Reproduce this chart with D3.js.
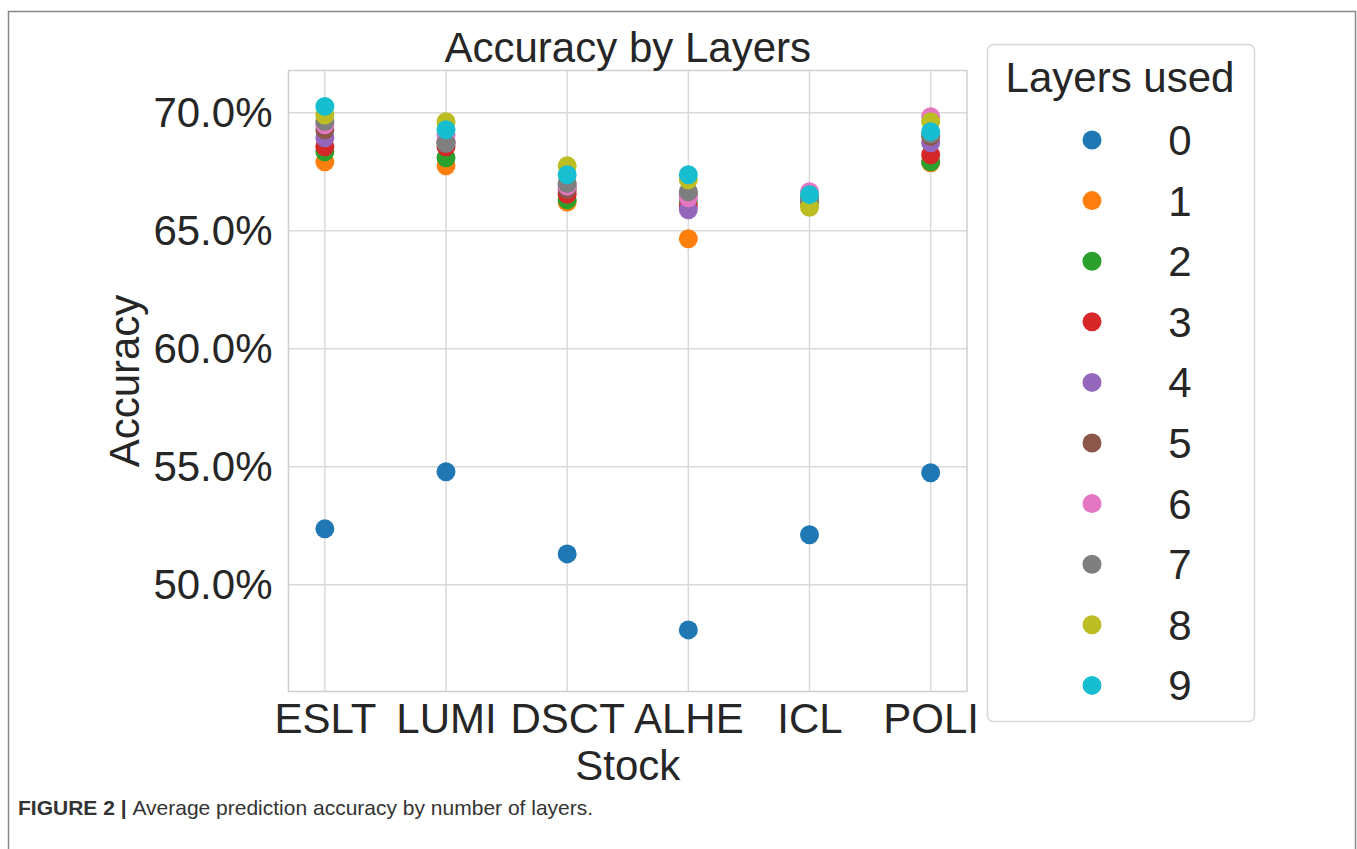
<!DOCTYPE html>
<html>
<head>
<meta charset="utf-8">
<script src="https://cdn.jsdelivr.net/npm/d3@7"></script>
<style>
  body { margin: 0; background: #fff; }
  svg { font-family: "Liberation Sans", Arial, sans-serif; }
</style>
</head>
<body>
<svg id="chart" width="1357" height="849"></svg>
<script>
const stocks = ["ESLT", "LUMI", "DSCT", "ALHE", "ICL", "POLI"];
const layers = ["0", "1", "2", "3", "4", "5", "6", "7", "8", "9"];
const yTicks = [50, 55, 60, 65, 70];

// accuracy (%) per layer count, one value per stock
const layer0 = [52.37, 54.79, 51.31, 48.09, 52.12, 54.75];
const layer1 = [67.92, 67.75, 66.22, 64.66, 66.20, 67.88];
const layer2 = [68.35, 68.09, 66.31, 66.23, 66.30, 67.92];
const layer3 = [68.56, 68.56, 66.55, 66.05, 66.30, 68.22];
const layer4 = [68.94, 68.80, 66.90, 65.89, 66.30, 68.73];
const layer5 = [69.28, 68.73, 66.75, 66.55, 66.35, 69.00];
const layer6 = [69.49, 69.07, 66.90, 66.40, 66.65, 69.83];
const layer7 = [69.63, 68.70, 67.00, 66.65, 66.30, 69.10];
const layer8 = [69.90, 69.62, 67.75, 67.16, 66.00, 69.62];
const layer9 = [70.27, 69.28, 67.37, 67.37, 66.53, 69.20];
const values = [layer0, layer1, layer2, layer3, layer4, layer5, layer6, layer7, layer8, layer9];

const colors = ["#1f77b4", "#ff7f0e", "#2ca02c", "#d62728", "#9467bd",
                "#8c564b", "#e377c2", "#7f7f7f", "#bcbd22", "#17becf"];

const svg = d3.select("#chart");
const plot = {left: 288.5, right: 967, top: 70.5, bottom: 691.5};

// outer frame of the figure
svg.append("path")
    .attr("d", "M8.5,849 V11.5 H1355.5 V849")
    .attr("fill", "none").attr("stroke", "#888").attr("stroke-width", 1.5);

let x = d3.scalePoint()
    .domain(stocks)
    .range([plot.left, plot.right])
    .padding(0.3);
let y = d3.scaleLinear()
    .domain([45.48, 71.79])
    .range([plot.bottom, plot.top]);

// grid
svg.append("g").selectAll("line.v")
    .data(stocks).enter().append("line")
    .attr("x1", d => x(d)).attr("x2", d => x(d))
    .attr("y1", plot.top).attr("y2", plot.bottom)
    .attr("stroke", "#d9d9d9").attr("stroke-width", 1.5);
svg.append("g").selectAll("line.h")
    .data(yTicks).enter().append("line")
    .attr("x1", plot.left).attr("x2", plot.right)
    .attr("y1", d => y(d)).attr("y2", d => y(d))
    .attr("stroke", "#d9d9d9").attr("stroke-width", 1.5);

svg.append("rect")
    .attr("x", plot.left).attr("y", plot.top)
    .attr("width", plot.right - plot.left).attr("height", plot.bottom - plot.top)
    .attr("fill", "none").attr("stroke", "#cfcfcf").attr("stroke-width", 1.5);

// axes (labels only, seaborn whitegrid style)
let yAxis = svg.append("g")
    .attr("transform", "translate(" + plot.left + ",0)")
    .call(d3.axisLeft(y).tickValues(yTicks).tickSize(0).tickPadding(16)
        .tickFormat(d => d.toFixed(1) + "%"));
yAxis.select(".domain").remove();
yAxis.selectAll("text").attr("font-size", 42).attr("fill", "#262626")
    .attr("font-family", "'Liberation Sans', Arial, sans-serif");

let xAxis = svg.append("g")
    .attr("transform", "translate(0," + plot.bottom + ")")
    .call(d3.axisBottom(x).tickSize(0).tickPadding(12));
xAxis.select(".domain").remove();
xAxis.selectAll("text").attr("font-size", 42).attr("fill", "#262626")
    .attr("font-family", "'Liberation Sans', Arial, sans-serif");

// titles
svg.append("text").attr("x", (plot.left + plot.right) / 2).attr("y", 62)
    .attr("text-anchor", "middle").attr("font-size", 42).attr("fill", "#262626")
    .text("Accuracy by Layers");
svg.append("text").attr("x", (plot.left + plot.right) / 2).attr("y", 780)
    .attr("text-anchor", "middle").attr("font-size", 42).attr("fill", "#262626")
    .text("Stock");
svg.append("text")
    .attr("transform", "translate(139," + (plot.top + plot.bottom) / 2 + ") rotate(-90)")
    .attr("text-anchor", "middle").attr("font-size", 42).attr("fill", "#262626")
    .text("Accuracy");

// dots, drawn layer by layer so later layers sit on top
values.forEach((vals, i) => {
    svg.append("g").selectAll("circle")
        .data(vals).enter().append("circle")
        .attr("cx", (d, j) => x(stocks[j]))
        .attr("cy", d => y(d))
        .attr("r", 9.5)
        .attr("fill", colors[i]);
});

// legend
let legend = svg.append("g");
legend.append("rect")
    .attr("x", 987.5).attr("y", 44.5).attr("width", 267).attr("height", 677)
    .attr("rx", 6).attr("fill", "#fff").attr("stroke", "#d6d6d6").attr("stroke-width", 1.5);
legend.append("text").attr("x", 1120).attr("y", 92)
    .attr("text-anchor", "middle").attr("font-size", 42).attr("fill", "#262626")
    .text("Layers used");
let rows = legend.selectAll("g.row")
    .data(layers).enter().append("g")
    .attr("transform", (d, i) => "translate(0," + (140 + i * 60.6) + ")");
rows.append("circle").attr("cx", 1092).attr("cy", 0).attr("r", 9.5)
    .attr("fill", (d, i) => colors[i]);
rows.append("text").attr("x", 1180).attr("y", 15)
    .attr("text-anchor", "middle").attr("font-size", 42).attr("fill", "#262626")
    .text(d => d);

// caption
let cap = svg.append("text").attr("x", 18).attr("y", 815)
    .attr("font-family", "'Liberation Sans', Arial, sans-serif")
    .attr("font-size", 21).attr("fill", "#333");
cap.append("tspan").attr("font-weight", "bold").text("FIGURE 2 | ");
cap.append("tspan").text("Average prediction accuracy by number of layers.");
</script>
</body>
</html>
